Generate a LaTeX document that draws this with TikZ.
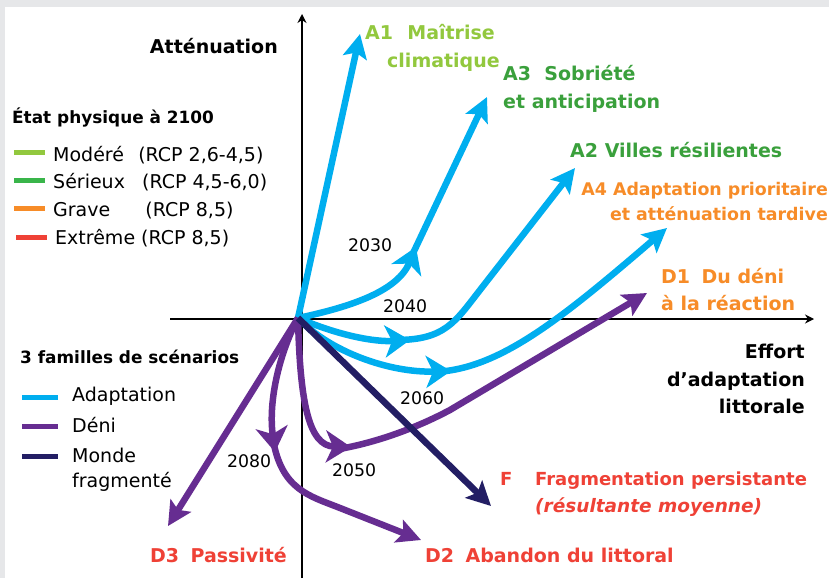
\documentclass[tikz,border=0pt]{standalone}
\usepackage{fontspec}
\setmainfont{DejaVu Sans}
\usetikzlibrary{arrows.meta}
\definecolor{cyanA}{RGB}{0,174,239}
\definecolor{violetD}{RGB}{102,45,145}
\definecolor{navyF}{RGB}{35,30,100}
\definecolor{vertclair}{RGB}{146,200,62}
\definecolor{vertfonce}{RGB}{58,160,60}
\definecolor{vertleg}{RGB}{57,181,74}
\definecolor{orangeG}{RGB}{247,140,40}
\definecolor{rougeE}{RGB}{239,65,54}
\definecolor{grisbord}{RGB}{230,231,233}
\tikzset{
  axisline/.style={line width=1.5pt, black, -{Stealth[length=9pt,width=9pt]}},
  trajtip/.style={line width=6.5pt, -{Stealth[length=24pt,width=24pt,inset=5pt]}},
  trajmid/.style={line width=6.5pt, -{Stealth[length=25pt,width=32pt,inset=7pt]}},
  trajcont/.style={shorten <=-14pt},
  legline/.style={line width=5pt},
  lab/.style={anchor=base west, inner sep=0pt, font=\fontsize{19}{22}\selectfont\bfseries},
  labr/.style={anchor=base east, inner sep=0pt, font=\fontsize{19}{22}\selectfont\bfseries},
  legtitle/.style={anchor=base west, inner sep=0pt, font=\fontsize{16.9}{20}\selectfont\bfseries},
  legtext/.style={anchor=base west, inner sep=0pt, font=\fontsize{19}{22}\selectfont},
  year/.style={anchor=base west, inner sep=0pt, font=\fontsize{17.3}{20}\selectfont},
}
\begin{document}
\begin{tikzpicture}[x=1pt,y=-1pt]
\fill[white] (0,0) rectangle (829,578);
\fill[grisbord] (0,0) rectangle (829,7);
\fill[grisbord] (0,0) rectangle (5,578);
\useasboundingbox (0,0) rectangle (829,578);

% axes
\coordinate (ybot) at (302,578);
\coordinate (ytop) at (302,14);
\coordinate (xleft) at (170,319);
\coordinate (xright) at (814,319);
\draw[axisline] (ybot) -- (ytop);
\draw[axisline] (xleft) -- (xright);

% key points
\coordinate (O) at (298,318);
\coordinate (A1e) at (360,34);
\coordinate (A3m) at (416,247);
\coordinate (A3e) at (487,97);
\coordinate (A2m) at (410,340);
\coordinate (A2e) at (575,168);
\coordinate (A4m) at (451,371);
\coordinate (A4e) at (667,228);
\coordinate (D1m) at (351,447);
\coordinate (D1e) at (647,293);
\coordinate (D2m) at (275,452);
\coordinate (D2e) at (421,540);
\coordinate (D3e) at (168,526);
\coordinate (Fe) at (491,506);

% adaptation (cyan)
\draw[trajtip, cyanA] (O) -- (A1e);
\draw[trajmid, cyanA] (O) .. controls (355,306) and (398,290) .. (A3m);
\draw[trajtip, trajcont, cyanA] (A3m) -- (A3e);
\draw[trajmid, cyanA] (O) .. controls (340,336) and (375,342) .. (A2m);
\draw[trajtip, trajcont, cyanA] (A2m) .. controls (445,340) and (455,322) .. (480,290) -- (A2e);
\draw[trajmid, cyanA] (O) .. controls (330,352) and (390,373) .. (A4m);
\draw[trajtip, trajcont, cyanA] (A4m) .. controls (500,368) and (560,320) .. (A4e);

% deni (purple)
\draw[trajmid, violetD] (O) .. controls (300,400) and (308,446) .. (D1m);
\draw[trajtip, trajcont, violetD] (D1m) .. controls (380,442) and (420,426) .. (450,410) -- (D1e);
\draw[trajmid, violetD] (O) .. controls (280,352) and (268,400) .. (D2m);
\draw[trajtip, trajcont, violetD] (D2m) .. controls (281,490) and (310,496) .. (340,508) -- (D2e);
\draw[trajtip, violetD] (O) -- (D3e);

% monde fragmente (navy)
\draw[trajtip, navyF] (O) -- (Fe);

% axis labels
\node[labr] (tAtt) at (278,53) {Atténuation};
\node[labr] (tEff1) at (805,358) {Effort};
\node[labr] (tEff2) at (805,386) {d’adaptation};
\node[labr] (tEff3) at (805,413) {littorale};

% legend 1
\node[legtitle] (tEtat) at (12,123) {État physique à 2100};
\coordinate (l1a) at (14,152); \coordinate (l1b) at (45,152);
\coordinate (l2a) at (14,180); \coordinate (l2b) at (45,180);
\coordinate (l3a) at (14,208); \coordinate (l3b) at (45,208);
\coordinate (l4a) at (16,237); \coordinate (l4b) at (47,237);
\draw[legline, vertclair] (l1a) -- (l1b);
\draw[legline, vertleg] (l2a) -- (l2b);
\draw[legline, orangeG] (l3a) -- (l3b);
\draw[legline, rougeE] (l4a) -- (l4b);
\node[legtext] (tMod) at (53,161) {Modéré\hspace{0.75em}(RCP 2,6-4,5)};
\node[legtext] (tSer) at (53,188) {Sérieux\hspace{0.9em}(RCP 4,5-6,0)};
\node[legtext] (tGra) at (53,216) {Grave\hspace{1.85em}(RCP 8,5)};
\node[legtext] (tExt) at (55,244) {Extrême (RCP 8,5)};

% legend 2
\node[legtitle] (tFam) at (20,363) {3 familles de scénarios};
\coordinate (m1a) at (22,397); \coordinate (m1b) at (58,397);
\coordinate (m2a) at (22,426); \coordinate (m2b) at (58,426);
\coordinate (m3a) at (22,456); \coordinate (m3b) at (58,456);
\draw[legline, cyanA] (m1a) -- (m1b);
\draw[legline, violetD] (m2a) -- (m2b);
\draw[legline, navyF] (m3a) -- (m3b);
\node[legtext] (tAda) at (72,401) {Adaptation};
\node[legtext] (tDen) at (72,432) {Déni};
\node[legtext] (tMon1) at (72,462) {Monde};
\node[legtext] (tMon2) at (72,487) {fragmenté};

% scenario labels
\node[lab, vertclair] (tA1a) at (365,40) {A1\hspace{0.75em}Maîtrise};
\node[lab, vertclair] (tA1b) at (387,67) {climatique};
\node[lab, vertfonce] (tA3a) at (503,80) {A3\hspace{0.7em}Sobriété};
\node[lab, vertfonce] (tA3b) at (503,108) {et anticipation};
\node[lab, vertfonce] (tA2) at (570,157) {A2 Villes résilientes};
\node[labr, orangeG, font=\fontsize{17.4}{22}\selectfont\bfseries] (tA4a) at (828,195) {A4 Adaptation prioritaire};
\node[labr, orangeG, font=\fontsize{17.4}{22}\selectfont\bfseries] (tA4b) at (828,220) {et atténuation tardive};
\node[lab, orangeG] (tD1a) at (661,283) {D1\hspace{0.6em}Du déni};
\node[lab, orangeG] (tD1b) at (661,310) {à la réaction};
\node[lab, rougeE, font=\fontsize{18}{22}\selectfont\bfseries] (tF) at (500,485) {F};
\node[lab, rougeE, font=\fontsize{18}{22}\selectfont\bfseries] (tFa) at (535,485) {Fragmentation persistante};
\node[lab, rougeE, font=\fontsize{18.5}{22}\selectfont\bfseries\itshape] (tFb) at (535,512) {(résultante moyenne)};
\node[lab, rougeE] (tD2) at (425,562) {D2\hspace{0.6em}Abandon du littoral};
\node[lab, rougeE] (tD3) at (150,562) {D3\hspace{0.6em}Passivité};

% years
\node[year] (y2030) at (348,251) {2030};
\node[year] (y2040) at (383,312) {2040};
\node[year] (y2060) at (400,404) {2060};
\node[year] (y2050) at (332,476) {2050};
\node[year] (y2080) at (227,467) {2080};
\end{tikzpicture}
\end{document}
